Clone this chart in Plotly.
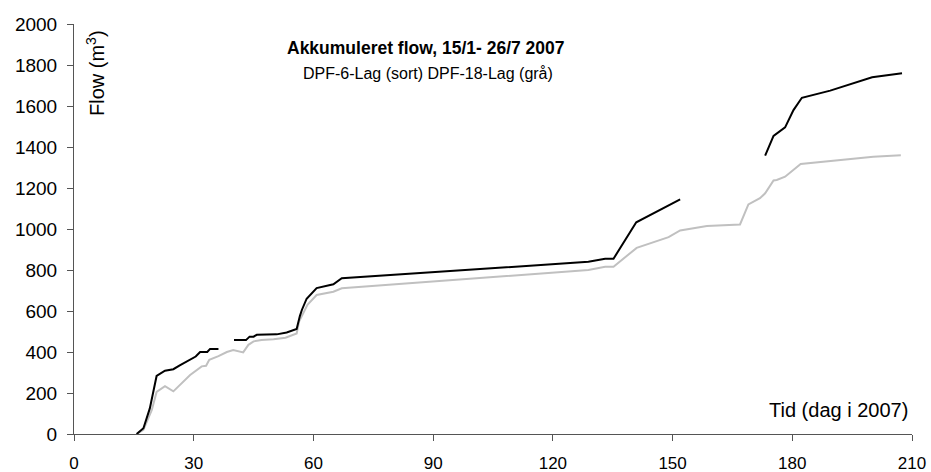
import plotly.graph_objects as go

# DPF-6-Lag (black) – None marks gaps in the record
day_6 = [15.7, 17.4, 19.0, 20.7, 22.8, 24.9, 26.5, 28.5, 30.5, 31.6, 33.4, 34.1, 36.2,
         None,
         40.1, 43.1, 44.0, 45.0, 45.8, 50.8, 53.3, 55.8, 56.6, 57.1, 58.3, 59.1, 60.0,
         60.8, 65.0, 67.1, 128.9, 133.1, 135.2, 140.9, 151.9,
         None,
         173.2, 175.3, 178.2, 180.3, 182.4, 189.5, 200.0, 207.5]
flow_6 = [0, 28, 125, 283, 309, 316, 335, 355, 378, 400, 400, 415, 415,
          None,
          458, 458, 475, 475, 484, 486, 495, 512, 575, 605, 660, 678, 694,
          712, 730, 760, 840, 855, 855, 1033, 1145,
          None,
          1358, 1454, 1496, 1580, 1640, 1675, 1740, 1760]

# DPF-18-Lag (grey)
day_18 = [15.7, 17.4, 19.5, 20.7, 22.8, 24.9, 29.1, 30.8, 32.0, 33.1, 33.9, 36.2, 38.3,
          39.9, 41.6, 42.4, 43.7, 45.0, 47.0, 50.0, 53.0, 55.8, 56.4, 58.5, 60.8, 65.0,
          67.1, 128.9, 133.1, 135.2, 141.0, 149.0, 151.9, 158.6, 166.9, 169.0, 171.9,
          173.2, 175.3, 176.1, 178.2, 182.1, 200.3, 207.2]
flow_18 = [0, 20, 117, 205, 233, 208, 288, 312, 330, 333, 362, 380, 400,
           410, 400, 398, 435, 452, 458, 462, 470, 490, 548, 630, 678, 694,
           711, 800, 816, 816, 908, 960, 993, 1015, 1022, 1120, 1150,
           1174, 1237, 1239, 1255, 1317, 1353, 1360]

x_ticks = [0, 30, 60, 90, 120, 150, 180, 210]
y_ticks = [0, 200, 400, 600, 800, 1000, 1200, 1400, 1600, 1800, 2000]

FONT = "Liberation Sans, Arial, sans-serif"

fig = go.Figure()
fig.add_trace(go.Scatter(x=day_18, y=flow_18, mode="lines",
                         line=dict(color="#c0c0c0", width=2), connectgaps=False,
                         name="DPF-18-Lag"))
fig.add_trace(go.Scatter(x=day_6, y=flow_6, mode="lines",
                         line=dict(color="#000000", width=2), connectgaps=False,
                         name="DPF-6-Lag"))

fig.update_layout(
    width=931, height=472,
    margin=dict(l=74, r=19, t=24, b=38),
    paper_bgcolor="white", plot_bgcolor="white",
    showlegend=False,
    font=dict(family=FONT, color="black", size=17),
)
fig.update_xaxes(range=[0, 210], tickvals=x_ticks, ticks="outside", ticklen=6,
                 tickcolor="#555", showline=True, linecolor="#555", linewidth=1,
                 showgrid=False, zeroline=False, ticklabelstandoff=8,
                 automargin=False, tickfont=dict(size=17))
fig.update_yaxes(range=[0, 2000], tickvals=y_ticks, ticks="outside", ticklen=6,
                 tickcolor="#555", showline=True, linecolor="#555", linewidth=1,
                 showgrid=False, zeroline=False, ticklabelstandoff=6,
                 automargin=False, tickfont=dict(size=19))

fig.add_annotation(xref="paper", yref="paper", x=(426 - 74) / 838, y=(434 - 48) / 410,
                   text="<b>Akkumuleret flow, 15/1- 26/7 2007</b>", showarrow=False,
                   xanchor="center", yanchor="middle", font=dict(size=17.5, family=FONT))
fig.add_annotation(xref="paper", yref="paper", x=(428 - 74) / 838, y=(434 - 73) / 410,
                   text="DPF-6-Lag (sort) DPF-18-Lag (grå)", showarrow=False,
                   xanchor="center", yanchor="middle", font=dict(size=16, family=FONT))
fig.add_annotation(xref="paper", yref="paper", x=(95 - 74) / 838, y=(434 - 28) / 410,
                   text="Flow (m<sup>3</sup>)", showarrow=False, textangle=-90,
                   xanchor="center", yanchor="top", font=dict(size=20, family=FONT))
fig.add_annotation(xref="paper", yref="paper", x=(910 - 74) / 838, y=(434 - 410) / 410,
                   text="Tid (dag i 2007)", showarrow=False,
                   xanchor="right", yanchor="middle", font=dict(size=20, family=FONT))

fig.write_html("out.html", config={"displayModeBar": False},
               post_script="document.body.style.margin='0';document.body.style.padding='0';")
